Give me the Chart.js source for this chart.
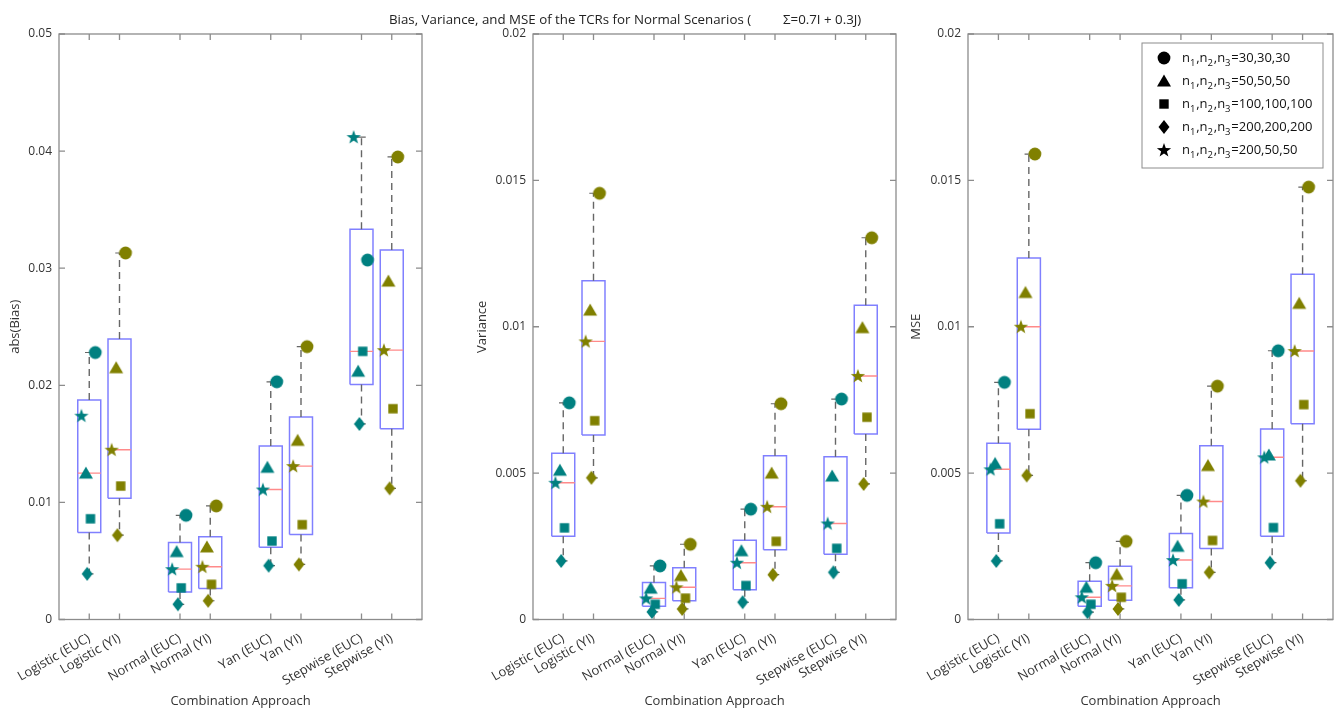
<!DOCTYPE html>
<html>
<head>
<meta charset="utf-8">
<script src="https://cdn.jsdelivr.net/npm/chart.js@4.4.1/dist/chart.umd.min.js"></script>
<style>
  body { margin: 0; background: #fff; font-family: "Open Sans", sans-serif; }
  #wrap { position: relative; width: 1342px; height: 713px; overflow: hidden; }
  .ttl { position: absolute; top: 9px; font-size: 13.3px; line-height: 20px; color: #222; white-space: pre; z-index: 2; }
  canvas { position: absolute; top: 0; }
</style>
</head>
<body>
<div id="wrap">
  <canvas id="cBias" width="440" height="713" style="left:0px"></canvas>
  <canvas id="cVar" width="466" height="713" style="left:450px"></canvas>
  <canvas id="cMse" width="442" height="713" style="left:900px"></canvas>
  <span class="ttl" style="left:389px">Bias, Variance, and MSE of the TCRs for Normal Scenarios (</span>
  <span class="ttl" style="left:783px">Σ=0.7I + 0.3J)</span>
</div>
<script>
const approaches = ['Logistic (EUC)', 'Logistic (YI)', 'Normal (EUC)', 'Normal (YI)',
                    'Yan (EUC)', 'Yan (YI)', 'Stepwise (EUC)', 'Stepwise (YI)'];
const positions = [1, 2, 4, 5, 7, 8, 10, 11];
const sizeLabels = ['30,30,30', '50,50,50', '100,100,100', '200,200,200', '200,50,50'];

// abs(Bias)
const bias30    = [0.0228, 0.0313, 0.0089, 0.0097, 0.0203, 0.0233, 0.0307, 0.0395];
const bias50    = [0.0125, 0.0215, 0.0058, 0.0062, 0.0130, 0.0153, 0.0212, 0.0289];
const bias100   = [0.0086, 0.0114, 0.0027, 0.0030, 0.0067, 0.0081, 0.0229, 0.0180];
const bias200   = [0.0039, 0.0072, 0.0013, 0.0016, 0.0046, 0.0047, 0.0167, 0.0112];
const bias20050 = [0.0174, 0.0145, 0.0043, 0.0045, 0.0111, 0.0131, 0.0412, 0.0230];

// Variance
const var30    = [0.0074, 0.01456, 0.00183, 0.00257, 0.00377, 0.00737, 0.00753, 0.01304];
const var50    = [0.0051, 0.01057, 0.00107, 0.00150, 0.00235, 0.00500, 0.00490, 0.00997];
const var100   = [0.00313, 0.00679, 0.00052, 0.00073, 0.00116, 0.00267, 0.00243, 0.00691];
const var200   = [0.00200, 0.00484, 0.00026, 0.00036, 0.00059, 0.00153, 0.00161, 0.00463];
const var20050 = [0.00467, 0.00950, 0.00072, 0.00110, 0.00194, 0.00385, 0.00328, 0.00832];

// MSE
const mse30    = [0.00810, 0.01590, 0.00194, 0.00267, 0.00424, 0.00797, 0.00918, 0.01477];
const mse50    = [0.00533, 0.01117, 0.00110, 0.00154, 0.00250, 0.00526, 0.00562, 0.01080];
const mse100   = [0.00327, 0.00703, 0.00052, 0.00076, 0.00122, 0.00270, 0.00314, 0.00734];
const mse200   = [0.00200, 0.00492, 0.00025, 0.00036, 0.00067, 0.00161, 0.00194, 0.00474];
const mse20050 = [0.00513, 0.01000, 0.00076, 0.00115, 0.00203, 0.00403, 0.00554, 0.00917];

const biasTicks = [0, 0.01, 0.02, 0.03, 0.04, 0.05];
const varTicks = [0, 0.005, 0.01, 0.015, 0.02];

const EUC = '#008080', YI = '#808000';
const FONT = '"Open Sans", sans-serif';
const shapes = ['circle', 'triangle', 'square', 'diamond', 'star'];
const jitter = [0.2, -0.11, 0.04, -0.07, -0.26];   // horizontal offset of each marker
const boxHalf = 0.38, capHalf = 0.14;

function marker(shape, color) {
  const c = document.createElement('canvas');
  c.width = 16; c.height = 16;
  const g = c.getContext('2d');
  g.fillStyle = color;
  g.beginPath();
  if (shape === 'circle') g.arc(8, 8, 6.4, 0, Math.PI * 2);
  if (shape === 'triangle') { g.moveTo(8, 1.5); g.lineTo(15, 13.5); g.lineTo(1, 13.5); }
  if (shape === 'square') g.rect(3.3, 3.3, 9.4, 9.4);
  if (shape === 'diamond') { g.moveTo(8, 1); g.lineTo(13.5, 8); g.lineTo(8, 15); g.lineTo(2.5, 8); }
  if (shape === 'star') {
    for (let i = 0; i < 10; i++) {
      const r = i % 2 ? 3 : 7.5, a = -Math.PI / 2 + i * Math.PI / 5;
      g.lineTo(8 + r * Math.cos(a), 8.5 + r * Math.sin(a));
    }
  }
  g.closePath();
  g.fill();
  return c;
}
const markerImgs = shapes.map(s => [marker(s, EUC), marker(s, YI)]);
const legendImgs = shapes.map(s => marker(s, '#000'));

// MATLAB-style quantile
function quant(sorted, p) {
  const n = sorted.length, pos = p * n - 0.5;
  if (pos <= 0) return sorted[0];
  if (pos >= n - 1) return sorted[n - 1];
  const i = Math.floor(pos), f = pos - i;
  return sorted[i] + f * (sorted[i + 1] - sorted[i]);
}

function boxStats(series, i) {
  const v = series.map(s => s[i]).sort((a, b) => a - b);
  const q1 = quant(v, 0.25), med = quant(v, 0.5), q3 = quant(v, 0.75);
  const iqr = q3 - q1;
  const hi = Math.max(...v.filter(x => x <= q3 + 1.5 * iqr));
  const lo = Math.min(...v.filter(x => x >= q1 - 1.5 * iqr));
  return { q1, med, q3, hi, lo };
}

const frameAndTicks = {
  id: 'frameAndTicks',
  beforeDatasetsDraw(chart) {
    const { ctx, chartArea: a, scales: { x, y } } = chart;
    ctx.save();
    ctx.strokeStyle = '#8c8c8c';
    ctx.lineWidth = 1.3;
    ctx.strokeRect(a.left, a.top, a.right - a.left, a.bottom - a.top);
    ctx.beginPath();
    positions.forEach(p => {
      const px = x.getPixelForValue(p);
      ctx.moveTo(px, a.bottom); ctx.lineTo(px, a.bottom - 6);
      ctx.moveTo(px, a.top); ctx.lineTo(px, a.top + 6);
    });
    y.ticks.forEach(t => {
      const py = y.getPixelForValue(t.value);
      ctx.moveTo(a.left, py); ctx.lineTo(a.left + 6, py);
      ctx.moveTo(a.right, py); ctx.lineTo(a.right - 6, py);
    });
    ctx.stroke();
    ctx.restore();
  }
};

const sizeLegend = {
  id: 'sizeLegend',
  afterDraw(chart, args, opts) {
    if (!opts.show) return;
    const { ctx, chartArea: a } = chart;
    const w = 181, h = 125, left = a.right - 10 - w, top = a.top + 9;
    ctx.save();
    ctx.fillStyle = '#fff';
    ctx.fillRect(left, top, w, h);
    ctx.strokeStyle = '#8c8c8c';
    ctx.lineWidth = 1;
    ctx.strokeRect(left, top, w, h);
    ctx.fillStyle = '#111';
    ctx.textBaseline = 'alphabetic';
    sizeLabels.forEach((lab, k) => {
      const cy = top + 15 + k * 23;
      const img = legendImgs[k];
      ctx.drawImage(img, left + 22 - img.width / 2, cy - img.height / 2);
      let tx = left + 40;
      const parts = [['n', 0], ['1', 1], [',', 0], ['n', 0], ['2', 1], [',', 0], ['n', 0], ['3', 1], ['=' + lab, 0]];
      parts.forEach(([t, sub]) => {
        ctx.font = (sub ? '9.5px ' : '13px ') + FONT;
        ctx.fillText(t, tx, cy + (sub ? 8 : 3.5));
        tx += ctx.measureText(t).width + (sub ? 0.8 : 0);
      });
    });
    ctx.restore();
  }
};

function makePanel(id, series, ticks, yTitle, titlePad, yWidth, padRight, showLegend) {
  const stats = positions.map((p, i) => boxStats(series, i));
  const boxPts = [], whiskPts = [], capPts = [], medPts = [];
  positions.forEach((p, i) => {
    const s = stats[i];
    boxPts.push({ x: p - boxHalf, y: s.q1 }, { x: p + boxHalf, y: s.q1 }, { x: p + boxHalf, y: s.q3 },
                { x: p - boxHalf, y: s.q3 }, { x: p - boxHalf, y: s.q1 }, { x: p, y: null });
    whiskPts.push({ x: p, y: s.q3 }, { x: p, y: s.hi }, { x: p, y: null },
                  { x: p, y: s.q1 }, { x: p, y: s.lo }, { x: p, y: null });
    capPts.push({ x: p - capHalf, y: s.hi }, { x: p + capHalf, y: s.hi }, { x: p, y: null },
                { x: p - capHalf, y: s.lo }, { x: p + capHalf, y: s.lo }, { x: p, y: null });
    medPts.push({ x: p - boxHalf, y: s.med }, { x: p + boxHalf, y: s.med }, { x: p, y: null });
  });

  const markerSets = series.map((s, k) => ({
    label: sizeLabels[k],
    data: positions.map((p, i) => ({ x: p + jitter[k], y: s[i] })),
    pointStyle: ctx => markerImgs[k][ctx.dataIndex % 2],
    pointRadius: 6,
    showLine: false
  }));
  const line = (data, color, dash, width) => ({
    data, showLine: true, spanGaps: false, pointRadius: 0,
    borderColor: color, borderWidth: width, borderDash: dash
  });

  new Chart(document.getElementById(id), {
    type: 'scatter',
    data: {
      datasets: [
        ...markerSets,
        line(medPts, '#ff8a8a', [], 1.4),
        line(capPts, '#666', [], 1.2),
        line(whiskPts, '#666', [7, 5], 1.4),
        line(boxPts, '#8080ff', [], 1.5)
      ]
    },
    options: {
      responsive: false,
      animation: false,
      events: [],
      layout: { padding: { top: 34, right: padRight, left: 0, bottom: 0 } },
      plugins: { legend: { display: false }, tooltip: { enabled: false }, sizeLegend: { show: showLegend } },
      scales: {
        x: {
          type: 'linear', min: 0, max: 12,
          afterBuildTicks: sc => { sc.ticks = positions.map(v => ({ value: v })); },
          afterFit: sc => { sc.height = 93.5; },
          grid: { display: false, drawTicks: false },
          border: { display: false },
          ticks: {
            autoSkip: false, minRotation: 30, maxRotation: 30, padding: 11,
            color: '#333', font: { family: FONT, size: 13 },
            callback: v => approaches[positions.indexOf(v)]
          },
          title: { display: true, text: 'Combination Approach', color: '#333',
                   font: { family: FONT, size: 13 }, padding: { bottom: 4 } }
        },
        y: {
          min: 0, max: ticks[ticks.length - 1],
          afterBuildTicks: sc => { sc.ticks = ticks.map(v => ({ value: v })); },
          afterFit: sc => { sc.width = yWidth; },
          grid: { display: false, drawTicks: false },
          border: { display: false },
          ticks: { padding: 7, color: '#333', font: { family: FONT, size: 12 }, callback: v => String(v) },
          title: { display: true, text: yTitle, color: '#333',
                   font: { family: FONT, size: 13 }, padding: { top: titlePad } }
        }
      }
    },
    plugins: [frameAndTicks, sizeLegend]
  });
}

makePanel('cBias', [bias30, bias50, bias100, bias200, bias20050], biasTicks, 'abs(Bias)', 7, 59, 18, false);
makePanel('cVar', [var30, var50, var100, var200, var20050], varTicks, 'Variance', 24, 83, 20, false);
makePanel('cMse', [mse30, mse50, mse100, mse200, mse20050], varTicks, 'MSE', 8, 68, 9, true);
</script>
</body>
</html>
